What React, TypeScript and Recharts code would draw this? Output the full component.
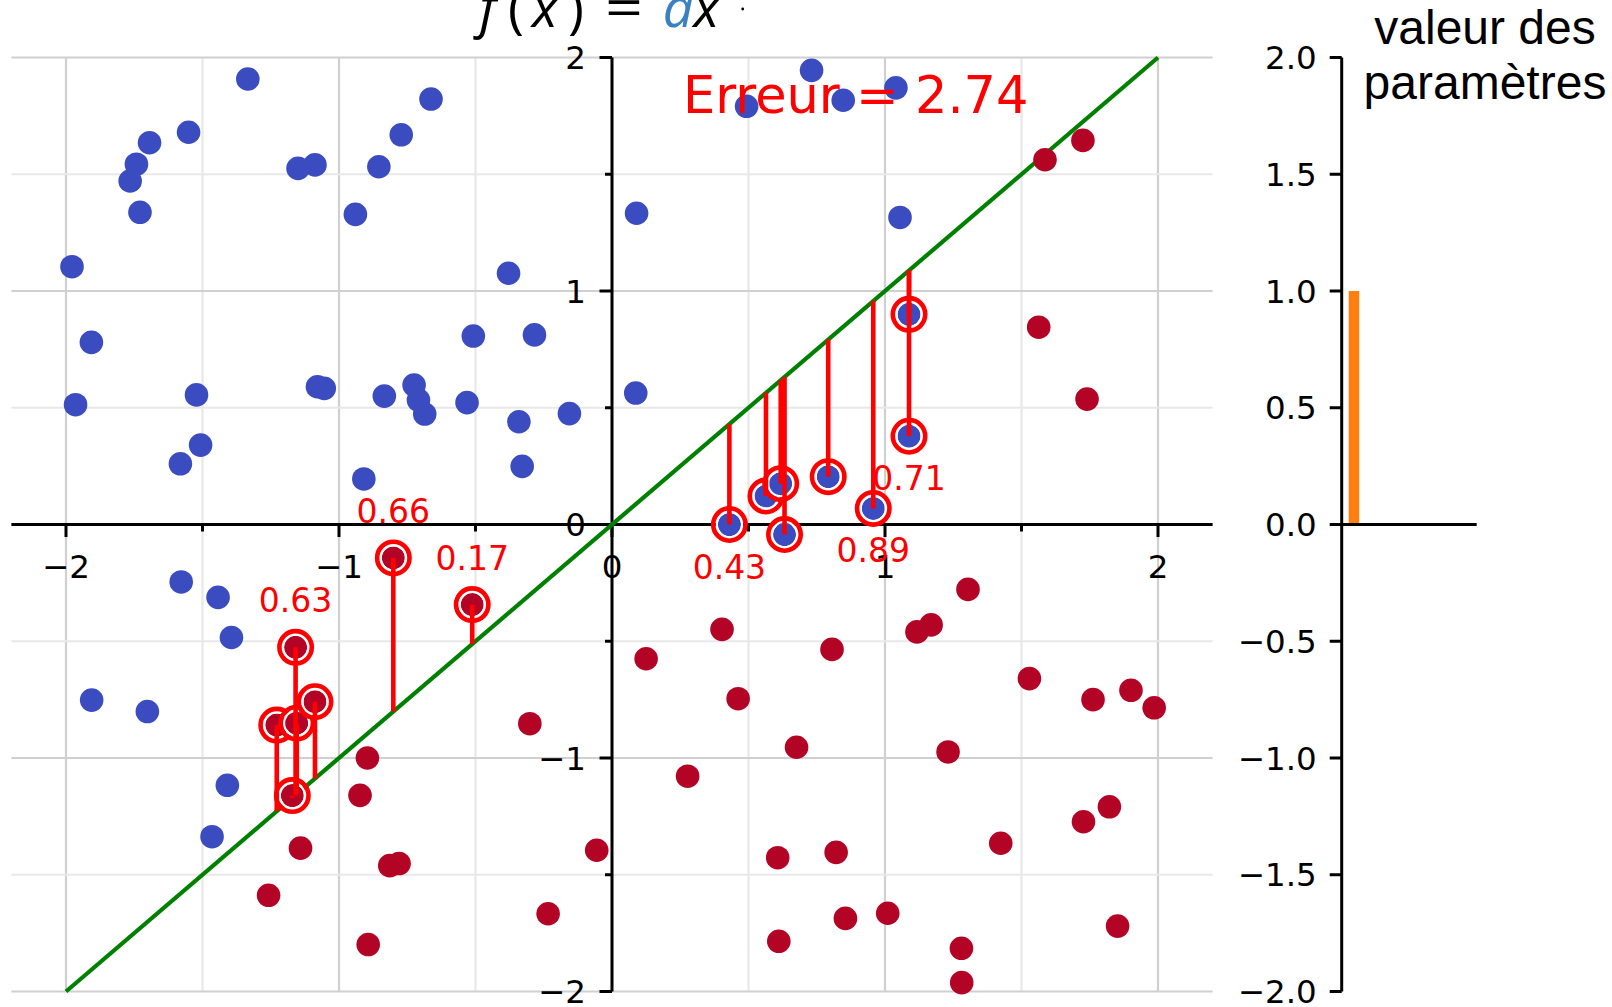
import { ScatterChart, Scatter, XAxis, YAxis, ReferenceLine, BarChart, Bar } from "recharts";

const W = 1612;
const H = 1007;

const BLUE = "#3b4cc0";
const RED = "#b40426";
const ERR = "#ff0000";
const MAJOR_GRID = "#d0d0d0";
const MINOR_GRID = "#e8e8e8";
const TICK_FONT = "DejaVu Sans";

// pente du modèle f(x) = a x
const slope = 1;
const totalError = 2.74;

const axisTicks = [-2, -1.5, -1, -0.5, 0, 0.5, 1, 1.5, 2];
const paramTicks = [-2, -1.5, -1, -0.5, 0, 0.5, 1, 1.5, 2];
const params = [{ name: "a", value: slope }];

// points bleus du bon côté de la droite
const blueOk: [number, number][] = [
  [-1.978, 1.104], [-1.907, 0.78], [-1.965, 0.513], [-1.694, 1.635], [-1.742, 1.543],
  [-1.765, 1.471], [-1.729, 1.337], [-1.551, 1.68], [-1.334, 1.908], [-1.15, 1.525],
  [-1.088, 1.54], [-0.94, 1.328], [-0.854, 1.532], [-0.772, 1.669], [-0.663, 1.822],
  [-0.379, 1.076], [-0.508, 0.807], [-0.284, 0.812], [-1.522, 0.555], [-1.507, 0.34],
  [-1.581, 0.26], [-1.079, 0.59], [-1.054, 0.583], [-0.834, 0.55], [-0.725, 0.597],
  [-0.709, 0.533], [-0.686, 0.473], [-0.531, 0.522], [-0.341, 0.44], [-0.329, 0.249],
  [-0.156, 0.475], [-0.909, 0.195],
  [-1.578, -0.246], [-1.443, -0.312], [-1.394, -0.484], [-1.906, -0.752], [-1.702, -0.801],
  [-1.409, -1.117], [-1.465, -1.337],
  [0.09, 1.333], [0.087, 0.563], [0.493, 1.791], [0.731, 1.945], [0.847, 1.817],
  [1.04, 1.87], [1.055, 1.315],
];

// points rouges du bon côté de la droite
const redOk: [number, number][] = [
  [-0.896, -1.0], [-0.923, -1.16], [-1.141, -1.386], [-1.258, -1.588], [-0.814, -1.461],
  [-0.78, -1.452], [-0.893, -1.799], [-0.301, -0.853], [-0.234, -1.667], [-0.056, -1.395],
  [0.125, -0.575], [0.403, -0.449], [0.462, -0.746], [0.277, -1.078], [0.806, -0.535],
  [0.676, -0.954], [0.607, -1.427], [0.821, -1.404], [0.611, -1.785], [0.855, -1.687],
  [1.01, -1.665], [1.117, -0.46], [1.169, -0.43], [1.304, -0.278], [1.231, -0.974],
  [1.28, -1.815], [1.281, -1.962], [1.529, -0.66], [1.424, -1.365], [1.762, -0.75],
  [1.901, -0.71], [1.986, -0.785], [1.727, -1.273], [1.822, -1.209], [1.852, -1.72],
  [1.586, 1.562], [1.725, 1.645], [1.563, 0.845], [1.74, 0.537],
];

// points mal classés ; tag = afficher l'erreur
const blueMiss = [
  { x: 0.43, y: 0.0, tag: true },
  { x: 0.564, y: 0.122, tag: false },
  { x: 0.618, y: 0.175, tag: false },
  { x: 0.632, y: -0.043, tag: false },
  { x: 0.792, y: 0.205, tag: false },
  { x: 0.957, y: 0.069, tag: true },
  { x: 1.088, y: 0.9, tag: false },
  { x: 1.088, y: 0.378, tag: true },
];

const redMiss = [
  { x: -0.801, y: -0.143, tag: true },
  { x: -0.512, y: -0.343, tag: true },
  { x: -1.159, y: -0.526, tag: true },
  { x: -1.228, y: -0.859, tag: false },
  { x: -1.155, y: -0.851, tag: false },
  { x: -1.088, y: -0.759, tag: false },
  { x: -1.171, y: -1.161, tag: false },
];

const toPts = (arr: [number, number][]) => arr.map(([x, y]) => ({ x, y }));
const fmtInt = (v: number) => (v < 0 ? "\u2212" + Math.abs(v) : String(v));
const fmtDec = (v: number) => (v < 0 ? "\u2212" + Math.abs(v).toFixed(1) : v.toFixed(1));
const errorOf = (p: { x: number; y: number }) => Math.abs(p.y - slope * p.x);

const MAIN_MARGIN = { top: 57.5, right: 399.4, bottom: 15.5, left: 11.4 };
const PARAM_MARGIN = { top: 57.5, right: 135.3, bottom: 15.5, left: 1241.7 };
const AXIS_W = 3;

const Empty = () => <g />;

const dot = (color: string) => (p: any) => <circle cx={p.cx} cy={p.cy} r={11.8} fill={color} />;

const ringDot = (color: string) => (p: any) => (
  <g>
    <circle cx={p.cx} cy={p.cy} r={11.5} fill={color} />
    <circle cx={p.cx} cy={p.cy} r={12.6} fill="none" stroke="#fff" strokeWidth={2.2} />
    <circle cx={p.cx} cy={p.cy} r={16.2} fill="none" stroke={ERR} strokeWidth={4.6} />
  </g>
);

const XTickMark = (p: any) => {
  const major = Number.isInteger(p.payload.x);
  return (
    <g>
      <line x1={p.cx} y1={p.cy} x2={p.cx} y2={p.cy + (major ? 12.5 : 7)} stroke="#000" strokeWidth={AXIS_W} />
      {major && (
        <text x={p.cx} y={p.cy + 53} textAnchor="middle" fontSize={32.5} fontFamily={TICK_FONT} fill="#000">
          {fmtInt(p.payload.x)}
        </text>
      )}
    </g>
  );
};

const YTickMark = (p: any) => {
  const major = Number.isInteger(p.payload.y);
  return (
    <g>
      <line x1={p.cx - (major ? 12.5 : 7)} y1={p.cy} x2={p.cx} y2={p.cy} stroke="#000" strokeWidth={AXIS_W} />
      {major && (
        <text x={p.cx - 26} y={p.cy + 11.5} textAnchor="end" fontSize={32.5} fontFamily={TICK_FONT} fill="#000">
          {fmtInt(p.payload.y)}
        </text>
      )}
    </g>
  );
};

const ErrorLabel = (p: any) => {
  const below = p.payload.y < slope * p.payload.x;
  return (
    <text x={p.cx} y={below ? p.cy + 54 : p.cy - 35} textAnchor="middle" fontSize={33} fontFamily={TICK_FONT} fill={ERR}>
      {errorOf(p.payload).toFixed(2)}
    </text>
  );
};

const misses = [...blueMiss, ...redMiss];
const tagged = misses.filter((m) => m.tag);
const fitLine = [
  { x: -2, y: -2 * slope },
  { x: 2, y: 2 * slope },
];

function MainPlot() {
  return (
    <ScatterChart width={W} height={H} margin={MAIN_MARGIN}>
      <XAxis type="number" dataKey="x" domain={[-2.2, 2.2]} ticks={axisTicks} hide />
      <YAxis type="number" dataKey="y" domain={[-2, 2]} ticks={axisTicks} hide />
      {axisTicks.map((v) => (
        <ReferenceLine key={"gx" + v} x={v} stroke={Number.isInteger(v) ? MAJOR_GRID : MINOR_GRID} strokeWidth={2.2} zIndex={-100} />
      ))}
      {axisTicks.map((v) => (
        <ReferenceLine key={"gy" + v} y={v} stroke={Number.isInteger(v) ? MAJOR_GRID : MINOR_GRID} strokeWidth={2.2} zIndex={-100} />
      ))}
      <ReferenceLine y={0} stroke="#000" strokeWidth={AXIS_W} zIndex={-50} />
      <ReferenceLine x={0} stroke="#000" strokeWidth={AXIS_W} zIndex={-50} />
      <Scatter data={axisTicks.map((v) => ({ x: v, y: 0 }))} shape={XTickMark} isAnimationActive={false} />
      <Scatter data={axisTicks.map((v) => ({ x: 0, y: v }))} shape={YTickMark} isAnimationActive={false} />
      <Scatter data={fitLine} line={{ stroke: "#008000", strokeWidth: 4.2 }} shape={Empty} isAnimationActive={false} />
      <Scatter data={toPts(blueOk)} shape={dot(BLUE)} isAnimationActive={false} />
      <Scatter data={toPts(redOk)} shape={dot(RED)} isAnimationActive={false} />
      <Scatter data={blueMiss} shape={ringDot(BLUE)} isAnimationActive={false} />
      <Scatter data={redMiss} shape={ringDot(RED)} isAnimationActive={false} />
      {misses.map((m, i) => (
        <Scatter
          key={"err" + i}
          data={[
            { x: m.x, y: m.y },
            { x: m.x, y: slope * m.x },
          ]}
          line={{ stroke: ERR, strokeWidth: 4.6 }}
          shape={Empty}
          isAnimationActive={false}
        />
      ))}
      <Scatter data={tagged} shape={ErrorLabel} isAnimationActive={false} />
    </ScatterChart>
  );
}

function ParamPlot() {
  return (
    <BarChart width={W} height={H} data={params} margin={PARAM_MARGIN}>
      <XAxis dataKey="name" hide padding={{ left: 0, right: 110.4 }} />
      <YAxis
        type="number"
        domain={[-2, 2]}
        allowDataOverflow
        ticks={paramTicks}
        interval={0}
        width={100}
        tickSize={12}
        tickMargin={13}
        tickFormatter={fmtDec}
        axisLine={{ stroke: "#000", strokeWidth: AXIS_W }}
        tickLine={{ stroke: "#000", strokeWidth: AXIS_W }}
        tick={{ fill: "#000", fontSize: 32.5, fontFamily: TICK_FONT }}
      />
      <ReferenceLine y={0} stroke="#000" strokeWidth={AXIS_W} />
      <Bar dataKey="value" fill="#ff7f0e" barSize={10.5} isAnimationActive={false} />
    </BarChart>
  );
}

function Titles() {
  const math = { fontFamily: "Open Sans", fontWeight: 400, fontSize: 54, fill: "#000" } as const;
  return (
    <svg width={W} height={H} style={{ position: "absolute", left: 0, top: 0, pointerEvents: "none" }}>
      <g {...math}>
        <text x={488} y={27} textAnchor="middle" fontStyle="italic">f</text>
        <text x={516} y={27} textAnchor="middle">(</text>
        <text x={545} y={27} textAnchor="middle" fontStyle="italic">x</text>
        <text x={576} y={27} textAnchor="middle">)</text>
        <text x={605} y={27} textLength={38} lengthAdjust="spacingAndGlyphs">=</text>
        <text x={678} y={27} textAnchor="middle" fontStyle="italic" fill="#3a80c4">a</text>
        <text x={706.5} y={27} textAnchor="middle" fontStyle="italic">x</text>
        <circle cx={742.7} cy={9} r={1.4} fill="#000" />
      </g>
      <text x={683} y={113} fontSize={51} fontFamily={TICK_FONT} fill={ERR}>
        {`Erreur = ${totalError.toFixed(2)}`}
      </text>
      <g fontFamily="Liberation Sans, Arial" fontSize={48} fill="#000" textAnchor="middle">
        <text x={1485} y={43.5}>valeur des</text>
        <text x={1485} y={98.5}>paramètres</text>
      </g>
    </svg>
  );
}

export default function App() {
  return (
    <div style={{ position: "absolute", left: 0, top: 0, width: W, height: H, background: "#fff", overflow: "hidden" }}>
      <div style={{ position: "absolute", left: 0, top: 0 }}>
        <MainPlot />
      </div>
      <div style={{ position: "absolute", left: 0, top: 0 }}>
        <ParamPlot />
      </div>
      <Titles />
    </div>
  );
}
